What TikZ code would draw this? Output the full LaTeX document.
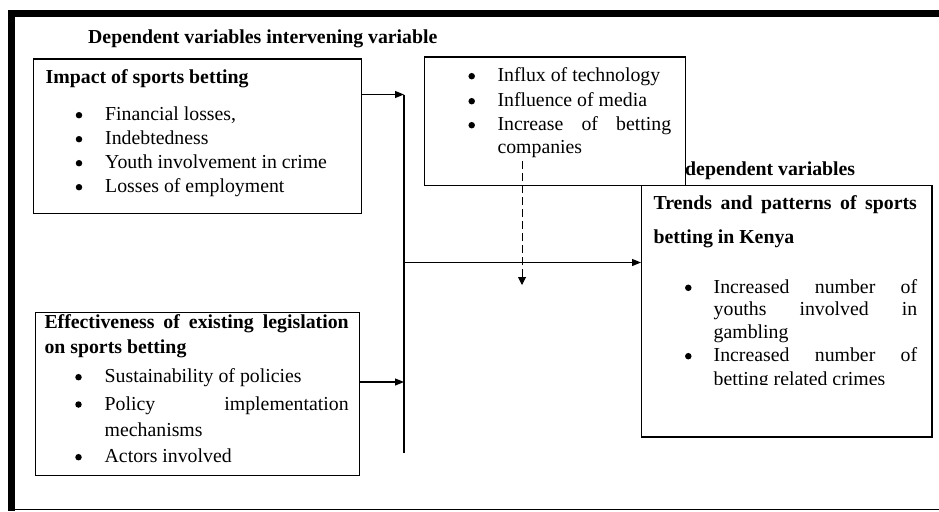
\documentclass[tikz,border=0pt]{standalone}
\usepackage{fontspec}
\setmainfont{Liberation Serif}
\usetikzlibrary{arrows.meta}
\newcommand{\bodyfont}{\fontsize{19.8}{24}\selectfont}
\newcommand{\jline}[2]{\makebox[#1][s]{#2}}
\begin{document}
\begin{tikzpicture}[x=1pt,y=-1pt,
  box/.style={draw, line width=1.2pt, inner sep=0pt, anchor=north west},
  txt/.style={anchor=base west, inner sep=0pt, font=\bodyfont},
  btxt/.style={anchor=base west, inner sep=0pt, font=\bodyfont\bfseries},
  dot/.style={circle, fill, inner sep=0pt, minimum size=6.5pt, yshift=5.5pt},
  conn/.style={line width=1.1pt},
  arr/.style={line width=1.1pt, -{Triangle[length=9pt,width=7pt]}},
  darr/.style={line width=1pt, dash pattern=on 8pt off 4pt, -{Triangle[length=8pt,width=8pt]}}
]
\useasboundingbox (0,0) rectangle (939,511);
% outer frame
\fill (8,10) rectangle (939,17);
\fill (8,10) rectangle (15,511);
\draw[line width=1pt] (8,509.5) -- (939,509.5);

% boxes
\node[box, minimum width=290pt, minimum height=250.5pt] (b3) at (641,185) {};
\draw[line width=2.2pt] (b3.north east) -- (b3.south east) -- (b3.south west);
\node[box, minimum width=328.5pt, minimum height=154.5pt] (b1) at (32.5,58.5) {};
\node[box, minimum width=261pt, minimum height=128.5pt] (b2) at (424,56.5) {};
\node[box, minimum width=324pt, minimum height=163.5pt] (b4) at (34.5,311.5) {};

% headings
\node[btxt] (h1) at (88,43.3) {Dependent variables intervening variable};
\node[btxt] (h2) at (685,175) {dependent variables};

% box 1
\node[btxt] (t1h) at (45.5,83.3) {Impact of sports betting};
\node[dot] (d1a) at (79,120.7) {};
\node[txt] (t1a) at (105,120.7) {Financial losses,};
\node[dot] (d1b) at (79,144.7) {};
\node[txt] (t1b) at (105,144.7) {Indebtedness};
\node[dot] (d1c) at (79,168.7) {};
\node[txt] (t1c) at (105,168.7) {Youth involvement in crime};
\node[dot] (d1d) at (79,192.7) {};
\node[txt] (t1d) at (105,192.7) {Losses of employment};

% box 2
\node[dot] (d2a) at (471.7,81.7) {};
\node[txt] (t2a) at (497.3,81.7) {Influx of technology};
\node[dot] (d2b) at (471.7,106.7) {};
\node[txt] (t2b) at (497.3,106.7) {Influence of media};
\node[dot] (d2c) at (471.7,130.7) {};
\node[txt] (t2c) at (497.3,130.7) {\jline{173.7pt}{Increase of betting}};
\node[txt] (t2d) at (497.3,153.3) {companies};

% box 3
\node[btxt] (t3h) at (653.3,209.3) {\jline{263.4pt}{Trends and patterns of sports}};
\node[btxt] (t3i) at (653.3,243.3) {betting in Kenya};
\node[dot] (d3a) at (688.3,293.3) {};
\node[txt] (t3a) at (713.5,293.3) {\jline{203.5pt}{Increased number of}};
\node[txt] (t3b) at (713.5,315.5) {\jline{203.5pt}{youths involved in}};
\node[txt] (t3c) at (713.5,338.5) {gambling};
\node[dot] (d3b) at (688.3,361.7) {};
\node[txt] (t3d) at (713.5,361.7) {\jline{203.5pt}{Increased number of}};
\begin{scope}
  \clip (641,368) rectangle (931,384.5);
  \node[txt] (t3e) at (713.5,385.7) {betting related crimes};
\end{scope}

% box 4
\node[btxt] (t4h) at (44.3,328.3) {\jline{304.2pt}{Effectiveness of existing legislation}};
\node[btxt] (t4i) at (44.3,353.3) {on sports betting};
\node[dot] (d4a) at (78.5,382.7) {};
\node[txt] (t4a) at (104.5,382.7) {Sustainability of policies};
\node[dot] (d4b) at (78.5,410) {};
\node[txt] (t4b) at (104.5,410) {\jline{244pt}{Policy implementation}};
\node[txt] (t4c) at (104.5,436) {mechanisms};
\node[dot] (d4c) at (78.5,462.7) {};
\node[txt] (t4d) at (104.5,462.7) {Actors involved};

% connectors
\coordinate (vt) at (404,94.5);
\coordinate (vb) at (404,453);
\coordinate (vm) at (404,262.5);
\coordinate (v4) at (404,382);
\coordinate (ds) at (522,161);
\coordinate (de) at (522,285);
\draw[conn] (vt) -- (vb);
\draw[arr] (b1.east |- vt) -- (vt);
\draw[arr] (b4.east |- v4) -- (v4);
\draw[arr] (vm) -- (vm -| b3.west);
\draw[darr] (ds) -- (de);
\end{tikzpicture}
\end{document}
